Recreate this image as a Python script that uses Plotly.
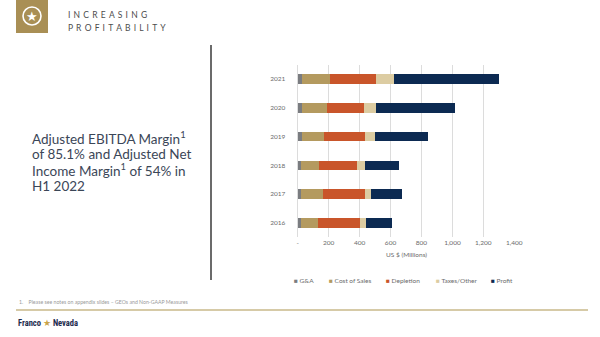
import plotly.graph_objects as go

# Annual cost breakdown and profit, US$ millions
years = ["2016", "2017", "2018", "2019", "2020", "2021"]
ga = [22, 22, 22, 28, 28, 30]
cost_of_sales = [108, 142, 116, 142, 159, 178]
depletion = [273, 273, 247, 267, 241, 299]
taxes_other = [41, 39, 49, 65, 75, 116]
profit = [168, 200, 219, 342, 516, 677]

series_names = ["G&A", "Cost of Sales", "Depletion", "Taxes/Other", "Profit"]
series_values = [ga, cost_of_sales, depletion, taxes_other, profit]
series_colors = ["#7a7c80", "#b49a5f", "#c9552a", "#dccca2", "#0c2a52"]

x_tick_values = [0, 200, 400, 600, 800, 1000, 1200, 1400]
x_tick_labels = ["-", "200", "400", "600", "800", "1,000", "1,200", "1,400"]

headline_lines = [
    "Adjusted EBITDA Margin<sup>1</sup>",
    "of 85.1% and Adjusted Net",
    "Income Margin<sup>1</sup> of 54% in",
    "H1 2022",
]

W, H = 600, 337


def px(x):
    return x / W


def py(y):
    return 1 - y / H


def spaced(word):
    # wide letter-spacing for the section title
    return " \u2009".join(word)


fig = go.Figure()
for name, vals, color in zip(series_names, series_values, series_colors):
    fig.add_trace(go.Bar(
        y=years, x=vals, name=name, orientation="h",
        marker=dict(color=color, line=dict(width=0)),
        showlegend=False,
    ))

GOLD = "#a98f55"
TEXT_GRAY = "#6b6b6b"
FONT = "Lato"

shapes = [
    # header badge
    dict(type="rect", xref="paper", yref="paper", x0=px(16), x1=px(48), y0=py(0), y1=py(33),
         fillcolor=GOLD, line=dict(width=0), layer="above"),
    dict(type="circle", xref="paper", yref="paper", x0=px(23), x1=px(41), y0=py(7), y1=py(25),
         line=dict(color="white", width=1.6), fillcolor="rgba(0,0,0,0)", layer="above"),
    # vertical divider
    dict(type="line", xref="paper", yref="paper", x0=px(211), x1=px(211), y0=py(45), y1=py(280),
         line=dict(color="#3a3a3a", width=1.5)),
    # footer rule
    dict(type="line", xref="paper", yref="paper", x0=px(16), x1=px(588), y0=py(310), y1=py(310),
         line=dict(color="#c9b98a", width=1.4)),
]

annotations = [
    dict(text="★", x=px(32), y=py(16.5), xref="paper", yref="paper", showarrow=False,
         font=dict(size=13, color="white", family="DejaVu Sans"), xanchor="center", yanchor="middle"),
    dict(text=spaced("INCREASING"), x=px(66), y=py(15), xref="paper", yref="paper", showarrow=False,
         font=dict(size=8.5, color="#4d4d4d", family=FONT), xanchor="left", yanchor="middle"),
    dict(text=spaced("PROFITABILITY"), x=px(66), y=py(28), xref="paper", yref="paper", showarrow=False,
         font=dict(size=8.5, color="#4d4d4d", family=FONT), xanchor="left", yanchor="middle"),
    dict(text="US $ (Millions)", x=px(406), y=py(254), xref="paper", yref="paper", showarrow=False,
         font=dict(size=6.5, color=TEXT_GRAY, family=FONT), xanchor="center", yanchor="middle"),
    dict(text="1.\u00a0\u00a0\u00a0\u00a0Please see notes on appendix slides – GEOs and Non-GAAP Measures",
         x=px(17), y=py(302), xref="paper", yref="paper", showarrow=False,
         font=dict(size=5.2, color="#9a9a9a", family=FONT), xanchor="left", yanchor="middle"),
    dict(text="<b>Franco</b> <span style='color:#c9a44a'>★</span> <b>Nevada</b>",
         x=px(16), y=py(323), xref="paper", yref="paper", showarrow=False,
         font=dict(size=8.5, color="#1d2b4d", family="Roboto Condensed, Liberation Sans Narrow, Roboto"),
         xanchor="left", yanchor="middle"),
]

# headline, one line per annotation for tight leading
for i, line in enumerate(headline_lines):
    annotations.append(dict(
        text=line, x=px(30), y=py(138 + 16 * i), xref="paper", yref="paper", showarrow=False,
        font=dict(size=13.5, color="#3b4657", family=FONT), xanchor="left", yanchor="middle",
    ))

# compact legend
legend_x = [292, 327, 384, 434, 489]
for name, color, lx in zip(series_names, series_colors, legend_x):
    annotations.append(dict(
        text=f"<span style='color:{color}'>■</span> {name}",
        x=px(lx), y=py(280), xref="paper", yref="paper", showarrow=False,
        font=dict(size=6.5, color=TEXT_GRAY, family=FONT), xanchor="left", yanchor="middle",
    ))

fig.update_layout(
    width=W, height=H,
    margin=dict(l=0, r=0, t=0, b=0),
    paper_bgcolor="white", plot_bgcolor="white",
    barmode="stack", bargap=0.67,
    font=dict(family=FONT, color=TEXT_GRAY),
    shapes=shapes, annotations=annotations,
    xaxis=dict(
        domain=[px(297.7), px(514.3)], range=[0, 1400],
        tickvals=x_tick_values, ticktext=x_tick_labels,
        tickfont=dict(size=6.5, color=TEXT_GRAY),
        showgrid=True, gridcolor="#dcdcdc", gridwidth=0.8,
        zeroline=True, zerolinecolor="#dcdcdc", zerolinewidth=0.8,
        showline=False, ticks="", automargin=False, fixedrange=True,
    ),
    yaxis=dict(
        domain=[py(237.4), py(64.6)],
        type="category", categoryorder="array", categoryarray=years,
        tickfont=dict(size=6.5, color=TEXT_GRAY),
        ticks="outside", ticklen=10, tickcolor="rgba(0,0,0,0)",
        showgrid=False, showline=False, zeroline=False, automargin=False,
    ),
)

fig.write_html("out.html")
